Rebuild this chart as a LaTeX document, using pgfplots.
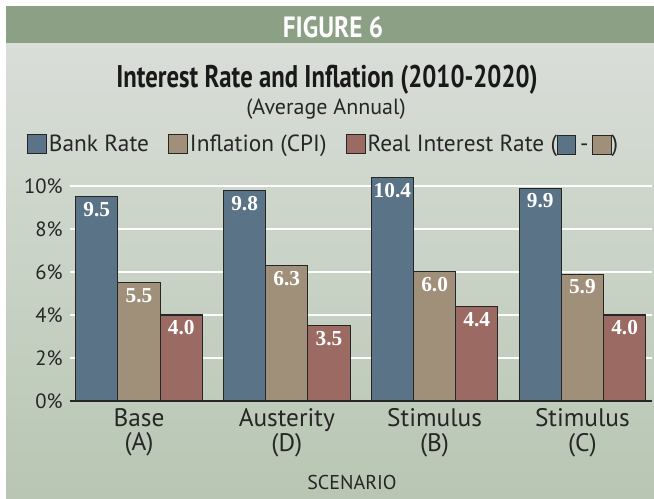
\documentclass[border=0pt]{standalone}
\usepackage{pgfplots}
\pgfplotsset{compat=1.18}
\usepackage{fontspec}
\setmainfont{PT Sans}
\newfontfamily\condfont{PT Sans}[FakeStretch=0.86]
\newfontfamily\titlefont{PT Sans}[FakeStretch=0.79]
\newfontfamily\numfont{Liberation Serif}
\definecolor{bankc}{HTML}{5A7387}
\definecolor{inflc}{HTML}{A09079}
\definecolor{realc}{HTML}{9A6A63}
\definecolor{bandc}{HTML}{8CA086}
\definecolor{bgtop}{HTML}{D9DED8}
\definecolor{bgbot}{HTML}{B8C6B3}
\definecolor{edgec}{HTML}{262626}
\newcommand\lbox[1]{\raisebox{-2.4pt}{\setlength\fboxsep{0pt}\setlength\fboxrule{0.7pt}\fcolorbox{edgec}{#1}{\rule{0pt}{13.5pt}\rule{13pt}{0pt}}}}
\pgfplotstableread{
x bank infl real
0 9.5 5.5 4.0
1 9.8 6.3 3.5
2 10.4 6.0 4.4
3 9.9 5.9 4.0
}\datatable
\begin{document}
\begin{tikzpicture}[x=0.75pt,y=0.75pt]
\fill[white] (0,0) rectangle (654,499);
\shade[top color=bgtop, bottom color=bgbot] (6,0) rectangle (654,456);
\fill[bandc] (6,456) rectangle (654,493);
\node[white,font=\condfont\fontsize{22}{24}\selectfont\bfseries] at (333,472) {FIGURE 6};
\node[black!90,font=\titlefont\fontsize{23.5}{26}\selectfont\bfseries] at (327,419) {Interest Rate and Inflation (2010-2020)};
\node[black!85,font=\fontsize{16.5}{18}\selectfont] at (326,390) {(Average Annual)};
\node[black!85,font=\fontsize{15}{16}\selectfont] at (352,16) {SCENARIO};
\begin{axis}[
  at={(52.5pt,73.5pt)}, anchor=south west,
  scale only axis, width=436.5pt, height=174.2pt,
  xmin=-0.467, xmax=3.471, ymin=0, ymax=10.8,
  ybar, bar width=0.2857,
  axis x line*=bottom, axis y line*=left,
  x axis line style={-, line width=1.6pt, color=edgec},
  y axis line style={draw=none},
  major tick length=0pt,
  ytick={0,2,4,6,8,10},
  ymajorgrids, grid style={white, line width=1.2pt},
  yticklabel={\pgfmathprintnumber{\tick}\%},
  /pgf/number format/assume math mode=true,
  yticklabel style={font=\fontsize{15.5}{18}\selectfont, color=black!85, xshift=-2pt},
  xtick={0,1,2,3},
  xticklabels={{Base\\(A)},{Austerity\\(D)},{Stimulus\\(B)},{Stimulus\\(C)}},
  xticklabel style={align=center, font=\fontsize{19}{18.5}\selectfont, color=black!85, yshift=-2pt},
  nodes near coords={\pgfmathprintnumber[fixed,fixed zerofill,precision=1]{\pgfplotspointmeta}},
  every node near coord/.append style={anchor=north, white, font=\numfont\bfseries\fontsize{16}{18}\selectfont, yshift=-0.5pt},
  legend image code/.code={\draw[#1, draw=edgec, line width=0.7pt] (0pt,-7pt) rectangle (14pt,7pt);},
  legend columns=3,
  legend style={at={(0.436,1.107)}, anchor=center, draw=none, fill=none,
    font=\fontsize{17.5}{19}\selectfont, text=black!85,
    /tikz/every even column/.append style={column sep=13pt},
    inner sep=0pt, nodes={inner sep=1.5pt}},
]
\addplot[fill=bankc, draw=edgec, line width=0.8pt, bar shift=-0.2857] table[x=x,y=bank] {\datatable};
\addplot[fill=inflc, draw=edgec, line width=0.8pt, bar shift=0] table[x=x,y=infl] {\datatable};
\addplot[fill=realc, draw=edgec, line width=0.8pt, bar shift=0.2857] table[x=x,y=real] {\datatable};
\legend{Bank Rate, Inflation (CPI), Real Interest Rate (\lbox{bankc}\,-\,\lbox{inflc})}
\end{axis}
\end{tikzpicture}
\end{document}
